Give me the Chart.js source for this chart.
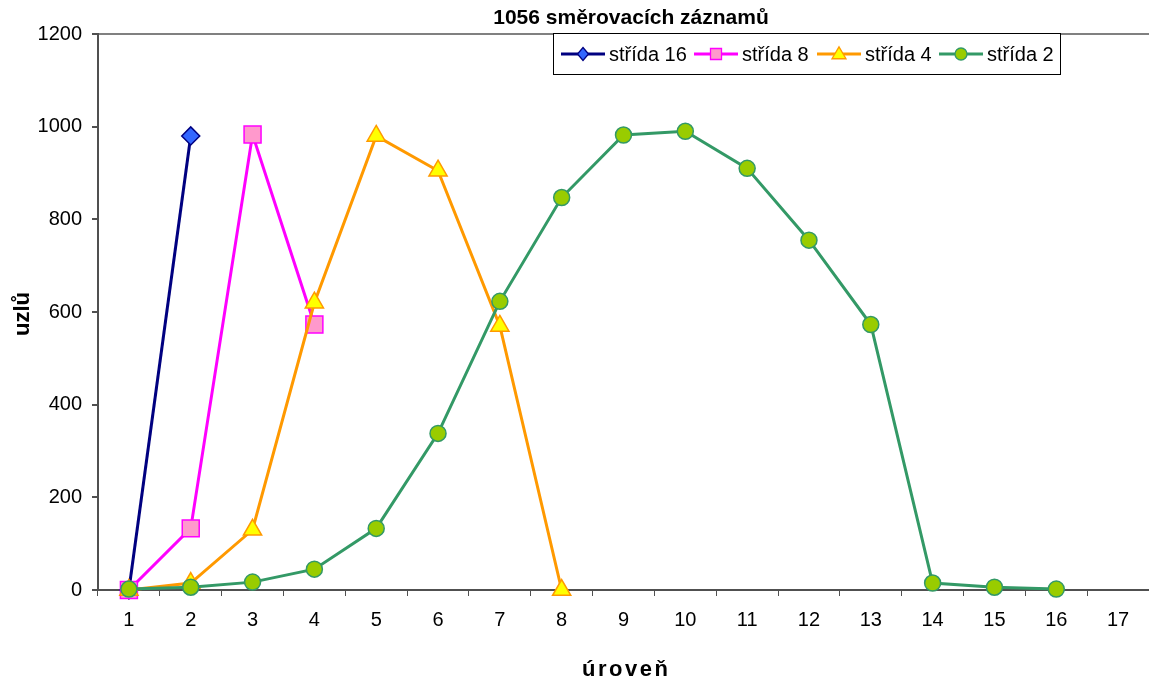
<!DOCTYPE html>
<html>
<head>
<meta charset="utf-8">
<title>1056 směrovacích záznamů</title>
<script src="https://cdn.jsdelivr.net/npm/chart.js@4.4.1/dist/chart.umd.min.js"></script>
<style>
  html, body { margin: 0; padding: 0; background: #fff; }
  #wrap { width: 1149px; height: 681px; }
</style>
</head>
<body>
<div id="wrap"><canvas id="c" width="1149" height="681"></canvas></div>
<script>
// Úrovně stromu (osa x) a počty uzlů pro jednotlivé střídy
const levels = ['1','2','3','4','5','6','7','8','9','10','11','12','13','14','15','16','17'];
const stride16 = [0, 980];
const stride8  = [0, 133, 983, 573];
const stride4  = [0, 15, 130, 620, 980, 905, 570, 0];
const stride2  = [2, 6, 17, 45, 133, 338, 623, 847, 982, 990, 910, 755, 573, 15, 6, 2];
const yTicks   = [0, 200, 400, 600, 800, 1000, 1200];

const seriesNames = ['střída 16', 'střída 8', 'střída 4', 'střída 2'];
const FONT = "'Liberation Sans', Arial, sans-serif";

const styles = [
  { line: '#000080', fill: '#3366FF', edge: '#000080', shape: 'rectRot',  r: 9,    lr: 6.5 },
  { line: '#FF00FF', fill: '#FF99CC', edge: '#FF00FF', shape: 'rect',     r: 12,   lr: 5.5 },
  { line: '#FF9900', fill: '#FFFF00', edge: '#FF9900', shape: 'triangle', r: 10.5, lr: 7 },
  { line: '#339966', fill: '#99CC00', edge: '#339966', shape: 'circle',   r: 8,    lr: 6 }
];
const values = [stride16, stride8, stride4, stride2];

function makeDataset(i) {
  const s = styles[i];
  return {
    label: seriesNames[i],
    data: values[i],
    borderColor: s.line,
    borderWidth: 3,
    backgroundColor: s.fill,
    pointStyle: s.shape,
    pointRadius: s.r,
    pointBackgroundColor: s.fill,
    pointBorderColor: s.edge,
    pointBorderWidth: 1.5,
    tension: 0,
    spanGaps: false,
    clip: false,
    order: 3 - i
  };
}

// Simple marker painter used for the legend symbols
function marker(ctx, shape, x, y, r, fill, edge) {
  ctx.save();
  ctx.beginPath();
  if (shape === 'circle') {
    ctx.arc(x, y, r, 0, Math.PI * 2);
  } else if (shape === 'rect') {
    ctx.rect(x - r, y - r, 2 * r, 2 * r);
  } else if (shape === 'rectRot') {
    ctx.moveTo(x, y - r); ctx.lineTo(x + r * 0.85, y); ctx.lineTo(x, y + r); ctx.lineTo(x - r * 0.85, y);
    ctx.closePath();
  } else if (shape === 'triangle') {
    const h = r * 1.7;
    ctx.moveTo(x, y - h * 0.6); ctx.lineTo(x + r, y + h * 0.4); ctx.lineTo(x - r, y + h * 0.4);
    ctx.closePath();
  }
  ctx.fillStyle = fill; ctx.fill();
  ctx.lineWidth = 1.3; ctx.strokeStyle = edge; ctx.stroke();
  ctx.restore();
}

const decorations = {
  id: 'decorations',
  afterDraw(chart) {
    const ctx = chart.ctx;
    ctx.save();
    // Nadpis
    ctx.fillStyle = '#000';
    ctx.font = 'bold 21px ' + FONT;
    ctx.textAlign = 'center';
    ctx.textBaseline = 'middle';
    ctx.fillText('1056 směrovacích záznamů', 631, 18);

    // Popisek osy y
    ctx.save();
    ctx.translate(23, 314);
    ctx.rotate(-Math.PI / 2);
    ctx.font = 'bold 22px ' + FONT;
    ctx.fillText('uzlů', 0, 0);
    ctx.restore();

    // Popisek osy x (prostrkaný)
    ctx.font = 'bold 22px ' + FONT;
    ctx.textAlign = 'left';
    ctx.textBaseline = 'alphabetic';
    const word = 'úroveň';
    const gap = 2.5;
    let total = 0;
    for (const ch of word) total += ctx.measureText(ch).width + gap;
    total -= gap;
    let x = 625 - total / 2;
    for (const ch of word) { ctx.fillText(ch, x, 676); x += ctx.measureText(ch).width + gap; }

    // Legenda
    const bx = 553.5, by = 33.5, bw = 507, bh = 41;
    ctx.fillStyle = '#fff';
    ctx.fillRect(bx, by, bw, bh);
    ctx.lineWidth = 1;
    ctx.strokeStyle = '#000';
    ctx.strokeRect(bx, by, bw, bh);
    const starts = [561, 694, 817, 939];
    const cy = 54;
    ctx.font = '20px ' + FONT;
    ctx.textBaseline = 'middle';
    for (let i = 0; i < 4; i++) {
      const s = styles[i];
      const lx = starts[i];
      ctx.beginPath();
      ctx.moveTo(lx, cy); ctx.lineTo(lx + 44, cy);
      ctx.lineWidth = 3; ctx.strokeStyle = s.line; ctx.stroke();
      marker(ctx, s.shape, lx + 22, cy, s.lr, s.fill, s.edge);
      ctx.fillStyle = '#000';
      ctx.fillText(seriesNames[i], lx + 48, cy + 1);
    }
    ctx.restore();
  }
};

new Chart(document.getElementById('c'), {
  type: 'line',
  data: {
    labels: levels,
    datasets: [0, 1, 2, 3].map(makeDataset)
  },
  options: {
    responsive: false,
    animation: false,
    events: [],
    layout: { autoPadding: false, padding: { top: 34, left: 0, right: 0, bottom: 0 } },
    plugins: {
      legend: { display: false },
      title: { display: false },
      tooltip: { enabled: false }
    },
    scales: {
      x: {
        type: 'category',
        offset: true,
        grid: {
          offset: true,
          drawOnChartArea: false,
          drawTicks: true,
          tickLength: 6,
          tickColor: '#505050'
        },
        border: { display: true, color: '#505050', width: 2 },
        ticks: {
          color: '#000',
          font: { family: FONT, size: 20 },
          padding: 12,
          maxRotation: 0,
          autoSkip: false
        },
        afterFit(scale) {
          scale.height = 91;
          scale.paddingLeft = 0;
          scale.paddingRight = 0;
        }
      },
      y: {
        min: 0,
        max: 1200,
        afterBuildTicks(scale) { scale.ticks = yTicks.map(v => ({ value: v })); },
        grid: {
          drawOnChartArea: true,
          color: (c) => (c.tick && c.tick.value === 1200 ? '#808080' : 'rgba(0,0,0,0)'),
          lineWidth: 2,
          drawTicks: true,
          tickLength: 6,
          tickColor: '#505050'
        },
        border: { display: true, color: '#505050', width: 2 },
        ticks: {
          color: '#000',
          font: { family: FONT, size: 20 },
          padding: 10,
          callback: (v) => String(v)
        },
        afterFit(scale) {
          scale.width = 98;
          scale.paddingTop = 0;
          scale.paddingBottom = 0;
        }
      }
    }
  },
  plugins: [decorations]
});
</script>
</body>
</html>
